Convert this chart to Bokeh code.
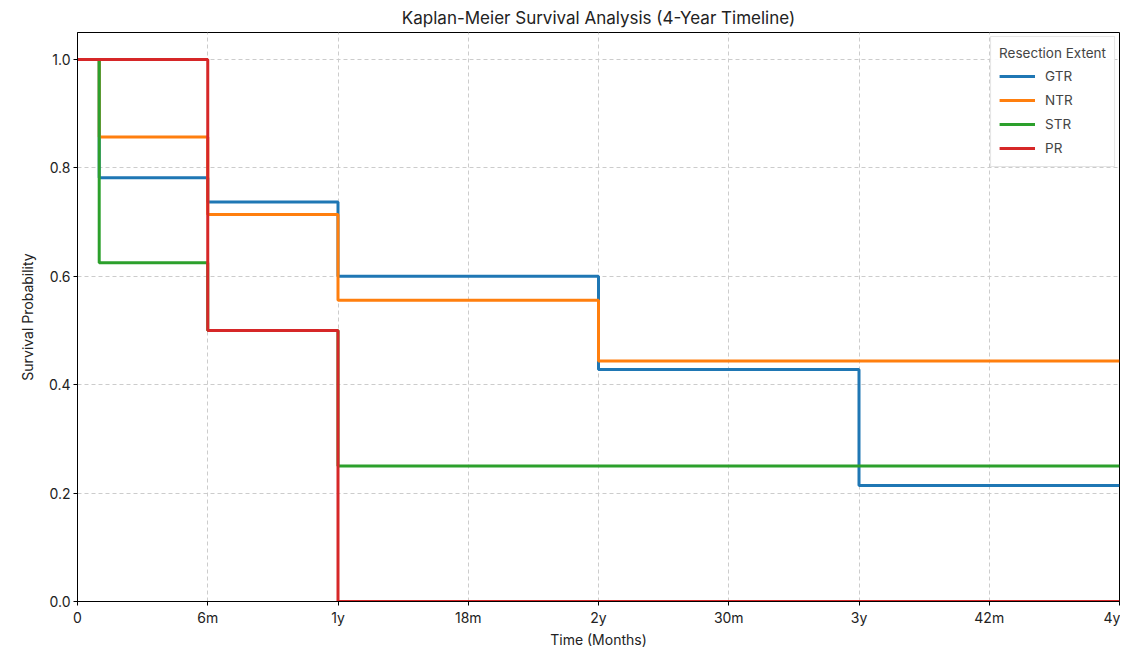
from bokeh.plotting import figure
from bokeh.models import Range1d, FixedTicker, Legend, LegendItem, NumeralTickFormatter
from bokeh.embed import file_html
from bokeh.resources import INLINE

groups = ["GTR", "NTR", "STR", "PR"]
colors = ["#1f77b4", "#ff7f0e", "#2ca02c", "#d62728"]
times = {
    "GTR": [0, 1, 6, 12, 24, 36, 48],
    "NTR": [0, 1, 6, 12, 24, 48],
    "STR": [0, 1, 6, 12, 48],
    "PR": [0, 6, 12, 48],
}
surv = {
    "GTR": [1.0, 0.782, 0.737, 0.600, 0.428, 0.214, 0.214],
    "NTR": [1.0, 0.857, 0.714, 0.556, 0.444, 0.444],
    "STR": [1.0, 0.625, 0.500, 0.250, 0.250],
    "PR": [1.0, 0.500, 0.000, 0.000],
}
x_ticks = [0, 6, 12, 18, 24, 30, 36, 42, 48]
x_labels = ["0", "6m", "1y", "18m", "2y", "30m", "3y", "42m", "4y"]
y_ticks = [0.0, 0.2, 0.4, 0.6, 0.8, 1.0]

FONT = "Inter"

p = figure(width=1120, height=650, output_backend="svg", toolbar_location=None,
           x_range=Range1d(0, 48), y_range=Range1d(0, 1.05),
           min_border_left=77, min_border_right=1, min_border_top=26, min_border_bottom=40)

p.title.text = "Kaplan-Meier Survival Analysis (4-Year Timeline)"
p.title.align = "center"
p.title.text_font = FONT
p.title.text_font_size = "17px"
p.title.text_font_style = "normal"
p.title.text_color = "#222222"

p.outline_line_color = "black"
p.outline_line_width = 1
p.outline_line_alpha = 1

p.xaxis.ticker = FixedTicker(ticks=x_ticks)
p.xaxis.major_label_overrides = {t: l for t, l in zip(x_ticks, x_labels)}
p.yaxis.ticker = FixedTicker(ticks=y_ticks)
p.yaxis.formatter = NumeralTickFormatter(format="0.0")
for ax in (p.xaxis, p.yaxis):
    ax.minor_tick_line_color = None
    ax.major_tick_in = 0
    ax.major_tick_out = 4
    ax.major_label_standoff = 3
    ax.major_label_text_font = FONT
    ax.major_label_text_font_size = "14px"
    ax.major_label_text_color = "#222222"
    ax.axis_label_text_font = FONT
    ax.axis_label_text_font_size = "14px"
    ax.axis_label_text_font_style = "normal"
    ax.axis_label_text_color = "#222222"
    ax.axis_line_color = "black"
p.xaxis.axis_label = "Time (Months)"
p.yaxis.axis_label = "Survival Probability"
p.xaxis.axis_label_standoff = 2
p.yaxis.axis_label_standoff = 10

p.grid.grid_line_color = "#cccccc"
p.grid.grid_line_dash = "4 3"
p.grid.grid_line_width = 1

items = []
for g, c in zip(groups, colors):
    r = p.step(times[g], surv[g], mode="after", line_color=c, line_width=3)
    items.append(LegendItem(label=g, renderers=[r]))

legend = Legend(items=items, location="top_right")
legend.title = "Resection Extent"
legend.title_text_font = FONT
legend.title_text_font_size = "13.5px"
legend.title_text_font_style = "normal"
legend.title_standoff = 5
legend.label_text_font = FONT
legend.label_text_font_size = "13.5px"
legend.glyph_width = 36
legend.label_standoff = 10
legend.label_height = 16
legend.spacing = 4
legend.padding = 8
legend.margin = 4
legend.border_line_color = "#cccccc"
legend.border_line_width = 1
legend.background_fill_alpha = 0.9
p.add_layout(legend)

open("out.html", "w").write(file_html(p, INLINE))
